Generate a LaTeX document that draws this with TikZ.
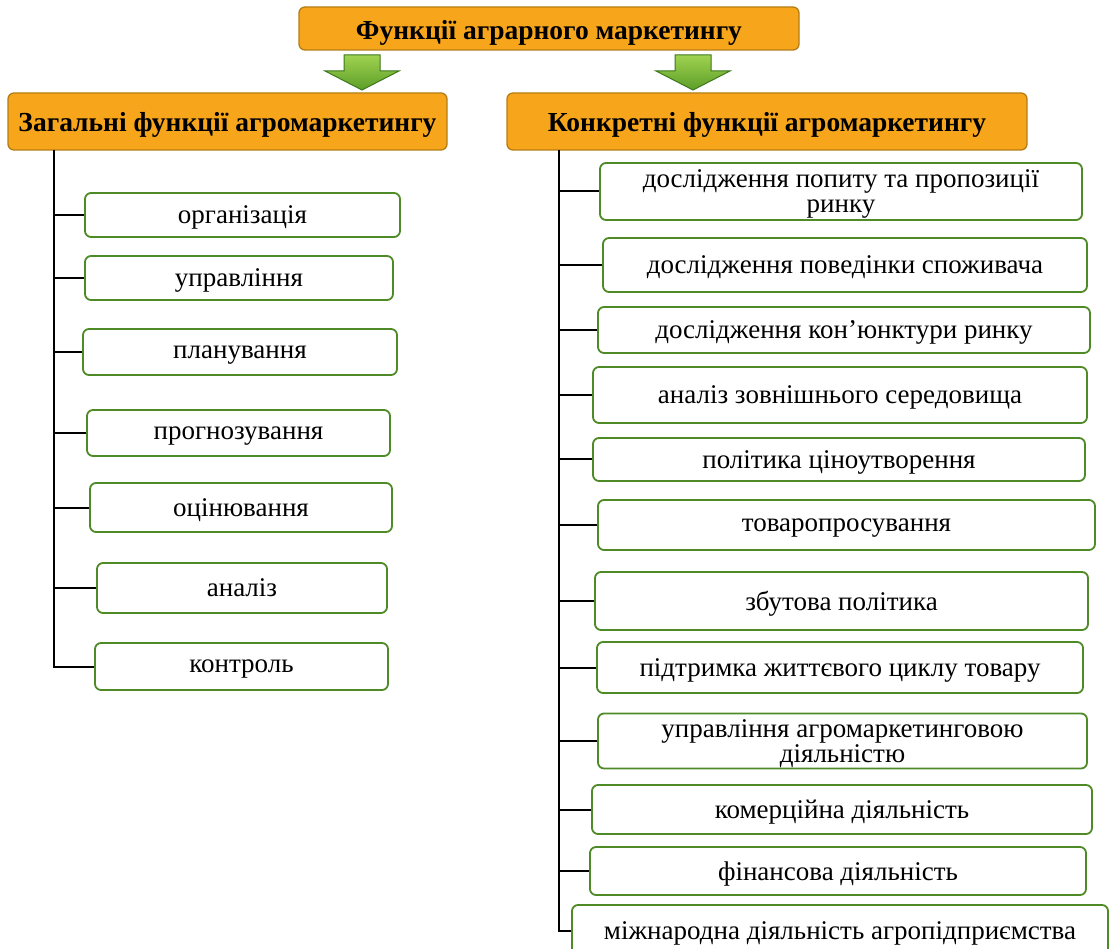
\documentclass[tikz,border=0pt]{standalone}
\usepackage{fontspec}
\setmainfont{Liberation Serif}
\usepackage{tikz}
\usetikzlibrary{positioning}

\definecolor{boxgreen}{RGB}{78,138,38}
\definecolor{headorange}{RGB}{247,166,27}
\definecolor{headedge}{RGB}{180,125,20}
\definecolor{arrowlight}{RGB}{160,210,80}
\definecolor{arrowdark}{RGB}{92,158,40}
\definecolor{arrowedge}{RGB}{60,120,30}

\tikzset{
  func/.style={draw=boxgreen, fill=white, rounded corners=6pt, line width=1.8pt,
    align=center, inner sep=0pt, text depth=0pt, font=\fontsize{27}{25}\selectfont},
  head/.style={draw=headedge, fill=headorange, rounded corners=6pt, line width=1.3pt,
    inner sep=0pt, text depth=0pt, font=\bfseries\fontsize{27.5}{30}\selectfont},
  garrow/.style={draw=arrowedge, line width=1pt, top color=arrowlight, bottom color=arrowdark},
  branch/.style={line width=2pt}
}

\begin{document}
\begin{tikzpicture}[x=1pt, y=-1pt]
      \useasboundingbox (0,0) rectangle (1109,949);
      \clip (0,0) rectangle (1109,949);

      % headers
      \node[head, minimum width=500pt, minimum height=43pt, text height=22pt] (F) at (549,28.5) {Функції аграрного маркетингу};
      \node[head, minimum width=439pt, minimum height=57pt] (G) at (227.5,121.5) {Загальні функції агромаркетингу};
      \node[head, minimum width=520pt, minimum height=57pt] (K) at (767,121.5) {Конкретні функції агромаркетингу};

      % green arrows
      \coordinate (A1) at (362,55);
      \coordinate (A2) at (693,55);
      \draw[garrow] (A1) ++(-18,0) -- ++(36,0) -- ++(0,16) -- ++(19,0) -- ++(-37,19) -- ++(-37,-19) -- ++(19,0) -- cycle;
      \draw[garrow] (A2) ++(-18,0) -- ++(36,0) -- ++(0,16) -- ++(19,0) -- ++(-37,19) -- ++(-37,-19) -- ++(19,0) -- cycle;

      % general functions
      \node[func, minimum width=315pt, minimum height=44pt] (G1) at (242.5,215) {організація};
      \node[func, minimum width=308pt, minimum height=44pt] (G2) at (239,278) {управління};
      \node[func, minimum width=314pt, minimum height=46pt] (G3) at (240,352) {планування};
      \node[func, minimum width=303pt, minimum height=46pt] (G4) at (238.5,433) {прогнозування};
      \node[func, minimum width=302pt, minimum height=49pt] (G5) at (241,507.5) {оцінювання};
      \node[func, minimum width=290pt, minimum height=50pt] (G6) at (242,588) {аналіз};
      \node[func, minimum width=293pt, minimum height=47pt] (G7) at (241.5,666.5) {контроль};

      % specific functions
      \node[func, minimum width=482pt, minimum height=57pt] (K1) at (841,191.5) {дослідження попиту та пропозиції\\ринку};
      \node[func, minimum width=484pt, minimum height=54pt] (K2) at (845,265) {дослідження поведінки споживача};
      \node[func, minimum width=492pt, minimum height=46pt] (K3) at (844,330) {дослідження кон’юнктури ринку};
      \node[func, minimum width=494pt, minimum height=56pt] (K4) at (840,395) {аналіз зовнішнього середовища};
      \node[func, minimum width=492pt, minimum height=43pt] (K5) at (839,459.5) {політика ціноутворення};
      \node[func, minimum width=497pt, minimum height=50pt] (K6) at (846.5,525) {товаропросування};
      \node[func, minimum width=493pt, minimum height=58pt] (K7) at (841.5,601) {збутова політика};
      \node[func, minimum width=486pt, minimum height=51pt] (K8) at (840,667.5) {підтримка життєвого циклу товару};
      \node[func, minimum width=489pt, minimum height=55pt] (K9) at (842.5,741) {управління агромаркетинговою\\діяльністю};
      \node[func, minimum width=500pt, minimum height=49pt] (K10) at (842,809.5) {комерційна діяльність};
      \node[func, minimum width=496pt, minimum height=48pt] (K11) at (838,871) {фінансова діяльність};
      \node[func, minimum width=536pt, minimum height=52pt] (K12) at (840,931) {міжнародна діяльність агропідприємства};

      % tree lines
      \coordinate (GT) at (54,150);
      \coordinate (KT) at (559,150);
      \draw[branch] (GT) |- (G7.west);
      \draw[branch] (G1.west -| GT) -- (G1.west);
      \draw[branch] (G2.west -| GT) -- (G2.west);
      \draw[branch] (G3.west -| GT) -- (G3.west);
      \draw[branch] (G4.west -| GT) -- (G4.west);
      \draw[branch] (G5.west -| GT) -- (G5.west);
      \draw[branch] (G6.west -| GT) -- (G6.west);
      \draw[branch] (KT) |- (K12.west);
      \draw[branch] (K1.west -| KT) -- (K1.west);
      \draw[branch] (K2.west -| KT) -- (K2.west);
      \draw[branch] (K3.west -| KT) -- (K3.west);
      \draw[branch] (K4.west -| KT) -- (K4.west);
      \draw[branch] (K5.west -| KT) -- (K5.west);
      \draw[branch] (K6.west -| KT) -- (K6.west);
      \draw[branch] (K7.west -| KT) -- (K7.west);
      \draw[branch] (K8.west -| KT) -- (K8.west);
      \draw[branch] (K9.west -| KT) -- (K9.west);
      \draw[branch] (K10.west -| KT) -- (K10.west);
      \draw[branch] (K11.west -| KT) -- (K11.west);
    \end{tikzpicture}
\end{document}
